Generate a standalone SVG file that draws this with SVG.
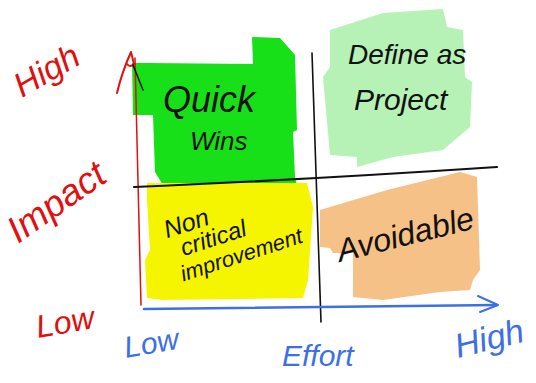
<svg xmlns="http://www.w3.org/2000/svg" width="536" height="383" viewBox="0 0 536 383">
<style>
.hand{font-family:"Liberation Sans","DejaVu Sans",sans-serif;font-style:italic}
.blk{fill:#111}
.red{fill:#e01010}
.blue{fill:#3d6fe6}
.ln{fill:none;stroke-linecap:round;stroke-linejoin:round}
</style>
<rect width="536" height="383" fill="#ffffff"/>
<g id="quick-wins">
<polygon fill="#18e018" points="132,63 147,63 253,64 252,37 280,38 295,55 297,130 293,132 295,177 297,185 163,185 155,172 153,115 133,115"/>
<text class="hand blk" x="163" y="112" font-size="36">Quick</text>
<text class="hand blk" x="190" y="150" font-size="26">Wins</text>
</g>
<g id="define-as-project">
<polygon fill="#b6f2b6" points="330,30 383,13 443,9 447,27 463,30 465,77 472,82 470,127 443,150 393,157 357,167 357,157 330,155 323,77 330,67"/>
<text class="hand blk" x="348" y="64" font-size="28">Define as</text>
<text class="hand blk" x="354" y="110" font-size="30">Project</text>
</g>
<g id="non-critical-improvement">
<polygon fill="#f5f500" points="147,183 307,183 313,207 308,280 303,298 163,300 147,298 145,260 150,250 147,200"/>
<g class="hand blk" transform="rotate(-18 175 240)">
<text x="168" y="236" font-size="25">Non</text>
<text x="178" y="258" font-size="24">critical</text>
<text x="170" y="282" font-size="22">improvement</text>
</g>
</g>
<g id="avoidable">
<polygon fill="#f6c186" points="320,210 387,190 460,172 477,177 480,270 473,280 470,290 440,292 383,300 353,297 353,253 333,253 330,248 320,247"/>
<text class="hand blk" x="340" y="262" font-size="32" transform="rotate(-14 340 262)">Avoidable</text>
</g>
<g id="connectors">
<path class="ln" stroke="#e01010" stroke-width="1.5" d="M135 58 L141 305"/>
<path class="ln" stroke="#e01010" stroke-width="2" d="M117 93 Q122 72 131 52 L134 64 Q130 68 127 64"/>
<path class="ln" stroke="#111" stroke-width="1.5" d="M133 65 L143 90"/>
<path class="ln" stroke="#111" stroke-width="2.2" d="M134 187 Q300 180 497 167"/>
<path class="ln" stroke="#111" stroke-width="1.6" d="M312 53 L321 322"/>
<path class="ln" stroke="#3d6fe6" stroke-width="2.5" d="M144 309 L497 305"/>
<path class="ln" stroke="#3d6fe6" stroke-width="2" d="M478 296 L498 305 L480 312"/>
</g>
<g id="impact-high"><text class="hand red" x="22" y="98" font-size="34" transform="rotate(-30 22 98)">High</text></g>
<g id="impact-label"><text class="hand red" x="18" y="244" font-size="37" transform="rotate(-35 18 244)">Impact</text></g>
<g id="impact-low"><text class="hand red" x="38" y="338" font-size="32" transform="rotate(-10 38 338)">Low</text></g>
<g id="effort-low"><text class="hand blue" x="126" y="358" font-size="30" transform="rotate(-10 126 358)">Low</text></g>
<g id="effort-label"><text class="hand blue" x="282" y="366" font-size="30">Effort</text></g>
<g id="effort-high"><text class="hand blue" x="458" y="358" font-size="34" transform="rotate(-14 458 358)">High</text></g>
</svg>
